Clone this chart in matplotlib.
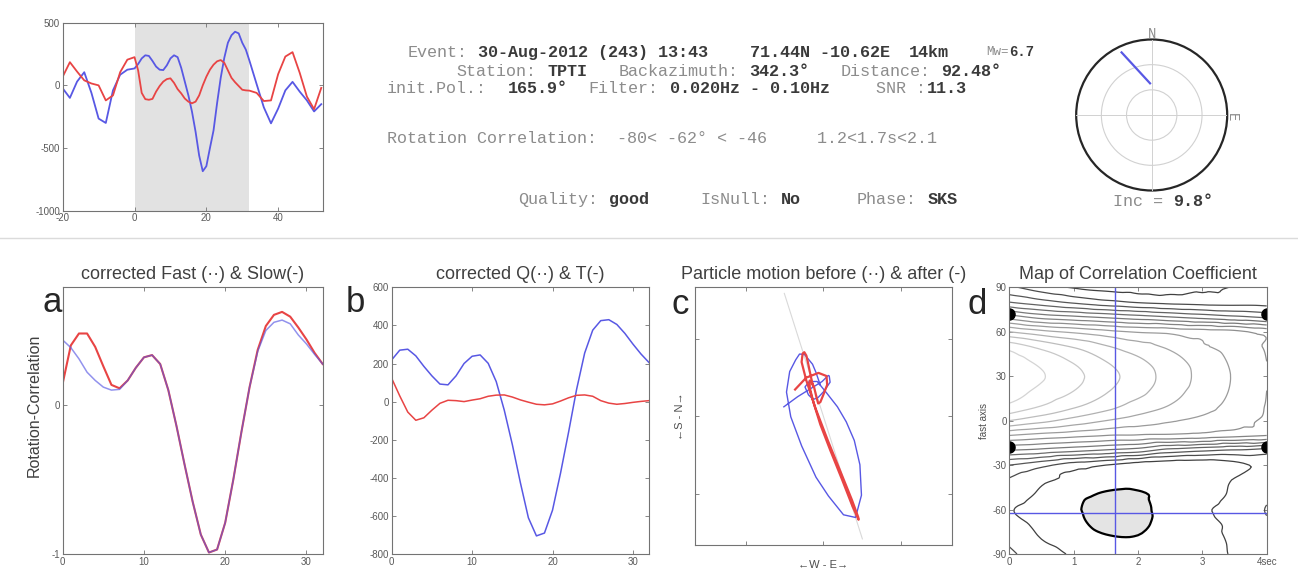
import numpy as np
import matplotlib
matplotlib.use("Agg")
import matplotlib.pyplot as plt
import matplotlib.tri as mtri
from matplotlib.lines import Line2D
from matplotlib.patches import Circle

# ------------------------------------------------------------------ data
event_date = "30-Aug-2012"
event_jday = 243
event_time = "13:43"
event_lat, event_lon, event_depth, event_mw = 71.44, -10.62, 14, 6.7
station = "TPTI"
backazimuth = 342.3
distance = 92.48
init_pol = 165.9
filt = (0.020, 0.10)
snr = 11.3
phi_range = (-80, -62, -46)
dt_range = (1.2, 1.7, 2.1)
quality, isnull, phase = "good", "No", "SKS"
inc = 9.8
best_phi = -62
best_dt = 1.65
window = (0, 32)

# top panel: uncorrected Q (blue) and T (red)
t_top = [-20, -18, -16, -14, -12, -10, -8, -6, -4, -2] + list(range(0, 33)) + \
        [34, 36, 38, 40, 42, 44, 46, 48, 50, 52]
q_top = [-24, -100, 30, 105, -60, -265, -300, -40, 85, 125,
         135, 170, 215, 240, 235, 195, 150, 125, 122, 160, 215, 240, 225, 140, 30,
         -80, -210, -370, -560, -685, -645, -500, -360, -140, 60, 220, 340, 400,
         428, 415, 340, 285, 197,
         10, -175, -303, -185, -40, 28, -50, -120, -208, -150]
tr_top = [69, 185, 110, 40, 15, 0, -120, -80, 105, 205,
          225, 120, -60, -110, -115, -108, -50, -5, 30, 50, 56, 20, -30, -64, -105,
          -130, -143, -130, -80, 0, 69, 125, 165, 192, 202, 180, 120, 60, 25, -5,
          -35, -40, -42,
          -60, -125, -120, 90, 230, 265, 100, -90, -190, -20]

# panels a, b: 1-s samples in the selection window
t_win = list(range(0, 33))
fast_a = [0.436, 0.385, 0.31, 0.22, 0.165, 0.12, 0.10, 0.105, 0.165, 0.25, 0.32,
          0.335, 0.275, 0.10, -0.14, -0.40, -0.65, -0.87, -0.99, -0.97, -0.79,
          -0.50, -0.18, 0.12, 0.36, 0.50, 0.555, 0.57, 0.545, 0.47, 0.41, 0.34, 0.275]
slow_a = [0.145, 0.40, 0.48, 0.48, 0.39, 0.26, 0.135, 0.112, 0.165, 0.25, 0.32,
          0.335, 0.275, 0.10, -0.14, -0.40, -0.65, -0.87, -0.99, -0.97, -0.79,
          -0.50, -0.18, 0.12, 0.37, 0.53, 0.605, 0.625, 0.593, 0.52, 0.44, 0.35, 0.275]
q_corr = [219, 270, 275, 240, 185, 135, 92, 88, 135, 200, 238, 245, 201, 105, -45,
          -225, -425, -610, -705, -690, -570, -375, -160, 65, 255, 375, 425, 430,
          405, 358, 302, 250, 205]
t_corr = [122, 30, -55, -98, -85, -45, -9, 7, 5, 0, 8, 15, 28, 34, 35, 24, 9, -3,
          -14, -17, -12, 3, 20, 33, 35, 28, 5, -8, -14, -10, -4, 1, 5]

# panel d: correlation map read on a grid (contour index units)
dt_grid = [0, 0.5, 1, 1.5, 2, 2.5, 3, 3.5, 4]
phi_grid = list(range(-90, 91, 10))
cmap_rows = [
    [3.2, 2.4, 1.9, 1.6, 1.5, 1.6, 1.8, 2.05, 2.3],      # -90
    [2.8, 2.0, 1.6, 1.15, 1.1, 1.5, 1.8, 2.1, 2.6],      # -80
    [2.45, 1.75, 1.3, 0.7, 0.75, 1.5, 1.85, 2.15, 2.85], # -70
    [2.08, 1.6, 1.2, 0.3, 0.6, 1.6, 1.9, 2.3, 3.05],     # -60
    [2.5, 1.85, 1.4, 0.85, 0.85, 1.3, 1.65, 2.15, 2.8],  # -50
    [2.9, 2.2, 1.8, 1.5, 1.4, 1.35, 1.5, 2.05, 2.6],     # -40
    [4.0, 3.3, 2.5, 2.0, 1.5, 1.3, 1.3, 1.7, 2.3],       # -30
    [7.0, 6.7, 6.3, 5.9, 5.5, 4.6, 4.2, 3.9, 3.6],       # -20
    [10.0, 9.6, 9.3, 9.0, 8.9, 8.8, 8.6, 8.3, 8.0],      # -10
    [13.0, 12.3, 11.6, 11.0, 10.5, 10.1, 9.75, 9.4, 8.8],  # 0
    [14.8, 14.0, 13.2, 12.4, 11.6, 10.95, 10.3, 9.7, 8.95],  # 10
    [15.6, 14.7, 14.0, 13.1, 12.3, 11.4, 10.6, 9.85, 9.0],   # 20
    [16.0, 15.1, 14.3, 13.4, 12.5, 11.6, 10.7, 9.9, 9.0],    # 30
    [15.6, 14.7, 13.9, 13.0, 12.2, 11.4, 10.6, 9.8, 9.0],    # 40
    [14.6, 13.7, 12.9, 12.1, 11.4, 10.8, 10.1, 9.6, 8.9],    # 50
    [12.0, 11.3, 10.8, 10.3, 9.9, 9.7, 9.45, 9.25, 8.6],     # 60
    [8.5, 7.6, 7.2, 6.8, 6.4, 6.0, 5.6, 5.2, 4.8],           # 70
    [5.0, 4.4, 3.8, 3.3, 2.9, 2.7, 2.6, 2.6, 2.6],           # 80
    [3.2, 2.4, 1.9, 1.6, 1.5, 1.6, 1.8, 2.05, 2.3],          # 90
]

# polar plot line (azimuth deg, normalised radius)
pol_az = [357.0, 334.3]
pol_r = [0.42, 0.92]

# ------------------------------------------------------------------ style
plt.rcParams['font.family'] = ['Liberation Sans', 'DejaVu Sans']
plt.rcParams['axes.unicode_minus'] = False
MONO = ['Liberation Mono', 'DejaVu Sans Mono']
BLUE = '#5858e4'
RED = '#e84444'
LABEL_C = '#8c8c8c'
VALUE_C = '#3a3a3a'

W, H = 1298, 581
fig = plt.figure(figsize=(W / 100, H / 100), dpi=100)


def px_axes(l, t, r, b, **kw):
    return fig.add_axes([l / W, 1 - b / H, (r - l) / W, (b - t) / H], **kw)


def ftext(x, y, s, **kw):
    fig.text(x / W, 1 - y / H, s, **kw)


def style(ax):
    for s in ax.spines.values():
        s.set_color('0.45')
        s.set_linewidth(0.8)
    ax.tick_params(direction='in', length=3, width=0.6, color='0.45',
                   labelcolor='0.35', labelsize=7, top=True, right=True, pad=2)


# ------------------------------------------------------------------ top seismogram
ax0 = px_axes(62.7, 22.7, 322.7, 210.7)
ax0.axvspan(window[0], window[1], color='#e2e2e2', lw=0)
ax0.plot(t_top, q_top, color=BLUE, lw=1.3)
ax0.plot(t_top, tr_top, color=RED, lw=1.3)
ax0.set_xlim(-20, 52.4)
ax0.set_ylim(-1000, 500)
ax0.set_xticks([-20, 0, 20, 40])
ax0.set_yticks([-1000, -500, 0, 500])
style(ax0)

# ------------------------------------------------------------------ header text
y1, y2, y3, y4, y5 = 52.3, 71.7, 88.3, 138.3, 199.3
segs = [
    ("Event:", 407.6, y1, False),
    (f"{event_date} ({event_jday:03d}) {event_time}", 478.3, y1, True),
    (f"{event_lat:.2f}N {event_lon:.2f}E", 750.0, y1, True),
    (f"{event_depth}km", 909.0, y1, True),
    ("Station:", 456.7, y2, False),
    (station, 547.6, y2, True),
    ("Backazimuth:", 618.3, y2, False),
    (f"{backazimuth:.1f}°", 749.6, y2, True),
    ("Distance:", 840.5, y2, False),
    (f"{distance:.2f}°", 941.5, y2, True),
    ("init.Pol.:", 386.7, y3, False),
    (f"{init_pol:.1f}°", 507.9, y3, True),
    ("Filter:", 588.7, y3, False),
    (f"{filt[0]:.3f}Hz - {filt[1]:.2f}Hz", 669.5, y3, True),
    ("SNR :", 876.0, y3, False),
    (f"{snr:.1f}", 926.5, y3, True),
    (f"Rotation Correlation:  {phi_range[0]}< {phi_range[1]}° < {phi_range[2]}     "
     f"{dt_range[0]:.1f}<{dt_range[1]:.1f}s<{dt_range[2]:.1f}", 386.7, y4, False),
    ("Quality:", 518.3, y5, False),
    (quality, 609.2, y5, True),
    ("IsNull:", 700.1, y5, False),
    (isnull, 780.9, y5, True),
    ("Phase:", 856.7, y5, False),
    (phase, 927.4, y5, True),
]
for s, x, y, bold in segs:
    ftext(x, y, s, family=MONO, fontsize=12.1, ha='left', va='center',
          color=VALUE_C if bold else LABEL_C,
          fontweight='bold' if bold else 'normal')
ftext(986.7, y1, "Mw=", family=MONO, fontsize=9, ha='left', va='center', color=LABEL_C)
ftext(1009.5, y1, f"{event_mw:.1f}", family=MONO, fontsize=10, ha='left', va='center',
      color=VALUE_C, fontweight='bold')

# ------------------------------------------------------------------ polar plot
axp = px_axes(1076.2, 39.5, 1227.2, 190.5)
axp.set_xlim(-1, 1)
axp.set_ylim(-1, 1)
axp.set_aspect('equal')
axp.axis('off')
for rr in (1 / 3, 2 / 3):
    axp.add_patch(Circle((0, 0), rr, fill=False, ec='0.82', lw=0.8))
axp.plot([-1, 1], [0, 0], color='0.82', lw=0.7)
axp.plot([0, 0], [-1, 1], color='0.82', lw=0.7)
axp.add_patch(Circle((0, 0), 1, fill=False, ec='0.15', lw=1.6, clip_on=False))
az = np.radians(pol_az)
axp.plot(np.array(pol_r) * np.sin(az), np.array(pol_r) * np.cos(az), color=BLUE, lw=1.6)
ftext(1151.7, 34, "N", family=MONO, fontsize=10, ha='center', va='center', color=LABEL_C)
ftext(1231.7, 116.7, "E", family=MONO, fontsize=10, ha='center', va='center',
      color=LABEL_C, rotation=-90)
ftext(1113, 201.7, "Inc =", family=MONO, fontsize=12.1, ha='left', va='center', color=LABEL_C)
ftext(1173.6, 201.7, f"{inc:.1f}°", family=MONO, fontsize=12.1, ha='left', va='center',
      color=VALUE_C, fontweight='bold')

# separator
fig.add_artist(Line2D([0, 1], [1 - 238 / H] * 2, color='0.86', lw=1.0))

TITLE_KW = dict(fontsize=13, color='0.25', pad=6)

# ------------------------------------------------------------------ panel a
axa = px_axes(62.7, 287.3, 322.7, 554)
axa.plot(t_win, slow_a, color=RED, lw=1.5)
axa.plot(t_win, fast_a, color=BLUE, lw=1.1, alpha=0.65)
axa.set_xlim(0, 32)
axa.set_ylim(-1, 0.79)
axa.set_xticks([0, 10, 20, 30])
axa.set_yticks([-1, 0])
style(axa)
axa.set_title("corrected Fast (··) & Slow(-)", **TITLE_KW)
axa.set_ylabel("Rotation-Correlation", fontsize=11.5, color='0.25')
axa.yaxis.set_label_coords(-0.08, 0.559)

# ------------------------------------------------------------------ panel b
axb = px_axes(391.7, 287.3, 649, 554)
axb.plot(t_win, q_corr, color=BLUE, lw=1.1)
axb.plot(t_win, t_corr, color=RED, lw=1.1)
axb.set_xlim(0, 32)
axb.set_ylim(-800, 600)
axb.set_xticks([0, 10, 20, 30])
axb.set_yticks(range(-800, 601, 200))
style(axb)
axb.set_title("corrected Q(··) & T(-)", **TITLE_KW)

# ------------------------------------------------------------------ panel c
b = np.radians(backazimuth)


def to_en(q, t):
    q = np.asarray(q, float)
    t = np.asarray(t, float)
    e = q * np.sin(b) - t * np.cos(b)
    n = q * np.cos(b) + t * np.sin(b)
    return e, n


sel = [i for i, tt in enumerate(t_top) if window[0] <= tt <= window[1]]
e0, n0 = to_en([q_top[i] for i in sel], [tr_top[i] for i in sel])
e1, n1 = to_en(q_corr, t_corr)
lim = 830
axc = px_axes(695, 287.3, 951.7, 545)
axc.plot([-lim * np.sin(b), lim * np.sin(b)], [-lim * np.cos(b), lim * np.cos(b)],
         color='0.85', lw=0.8)
axc.plot(e0, n0, color=BLUE, lw=1.0)
axc.plot(e1, n1, color=RED, lw=1.6)
axc.set_xlim(-lim, lim)
axc.set_ylim(-lim, lim)
axc.set_xticks([-500, 0, 500])
axc.set_yticks([-500, 0, 500])
axc.set_xticklabels([])
axc.set_yticklabels([])
style(axc)
axc.set_title("Particle motion before (··) & after (-)", **TITLE_KW)
axc.set_xlabel("←W - E→", fontsize=8, color='0.3', labelpad=9)
axc.set_ylabel("←S - N→", fontsize=8, color='0.3', labelpad=5)

# ------------------------------------------------------------------ panel d
axd = px_axes(1009.3, 287.3, 1266.7, 554)
X, Y = np.meshgrid(dt_grid, phi_grid)
F = np.array(cmap_rows)
tri = mtri.Triangulation(X.ravel(), Y.ravel())
interp = mtri.CubicTriInterpolator(tri, F.ravel(), kind='geom')
refiner = mtri.UniformTriRefiner(tri)
tri_r, F_r = refiner.refine_field(F.ravel(), triinterpolator=interp, subdiv=3)
axd.tricontourf(tri_r, F_r, levels=[-10, 1], colors=['#e4e4e4'])
levels = np.arange(2, 16)
cols = [str(round(0.25 + 0.58 * (lv - 2) / 13, 3)) for lv in levels]
axd.tricontour(tri_r, F_r, levels=levels, colors=cols, linewidths=0.9)
axd.tricontour(tri_r, F_r, levels=[1], colors='k', linewidths=1.6)
axd.axvline(best_dt, color=BLUE, lw=1.0)
axd.axhline(best_phi, color=BLUE, lw=1.0)
null1 = (backazimuth + 90) % 180 - 90
null2 = null1 + 90 if null1 < 0 else null1 - 90
for yy in (null1, null2):
    axd.plot([0, 4], [yy, yy], ls='none', marker='o', ms=8, color='k', clip_on=True)
axd.set_xlim(0, 4)
axd.set_ylim(-90, 90)
axd.set_xticks([0, 1, 2, 3, 4])
axd.set_xticklabels(["0", "1", "2", "3", "4sec"])
axd.set_yticks(range(-90, 91, 30))
style(axd)
axd.set_title("Map of Correlation Coefficient", **TITLE_KW)
axd.set_ylabel("fast axis", fontsize=7, color='0.3')
axd.yaxis.set_label_coords(-0.079, 0.5)

# panel letters
for s, x, y in (("a", 52.5, 302), ("b", 355, 302), ("c", 680, 304), ("d", 977, 304)):
    ftext(x, y, s, fontsize=25, ha='center', va='center', color='0.15')

fig.savefig("out.png", dpi=100)
